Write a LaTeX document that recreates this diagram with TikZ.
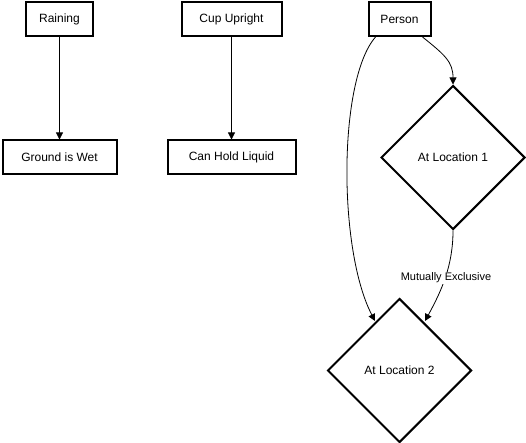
\documentclass[tikz,border=0pt]{standalone}
\usepackage{fontspec}
\setmainfont{Liberation Sans}
\usetikzlibrary{shapes.geometric,arrows.meta}
\begin{document}
\begin{tikzpicture}[x=1pt,y=-1pt,
  box/.style={draw,line width=2pt,rectangle,minimum height=34pt,inner sep=0pt,font=\fontsize{12}{14}\selectfont},
  dia/.style={draw,line width=2pt,diamond,minimum width=144pt,minimum height=144pt,inner sep=0pt,font=\fontsize{12}{14}\selectfont},
  conn/.style={line width=0.8pt,-{Triangle[length=7pt,width=7pt]}},
  lbl/.style={fill=white,inner sep=1pt,font=\fontsize{11}{13}\selectfont}]
\useasboundingbox (0,0) rectangle (526,443);
\node[box,minimum width=67pt] (rain) at (59.5,19) {Raining};
\node[box,minimum width=114pt] (wet) at (59.5,157.5) {Ground is Wet};
\node[box,minimum width=100pt] (cup) at (231.5,19) {Cup Upright};
\node[box,minimum width=128pt] (hold) at (231.5,157.5) {Can Hold Liquid};
\node[box,minimum width=62pt] (person) at (399.5,19) {Person};
\node[dia] (loc1) at (453,157.5) {At Location 1};
\node[dia] (loc2) at (399.5,370.5) {At Location 2};
\draw[conn] (rain.south) -- (wet.north);
\draw[conn] (cup.south) -- (hold.north);
\draw[conn] (person.south east) ++(-9,0) coordinate (p1)
  (p1) .. controls (445,55) and (453,62) .. (loc1.north);
\draw[conn] (person.south west) ++(8,0) coordinate (p2)
  (p2) .. controls (338,80) and (338,250) .. (375,321);
\draw[conn] (loc1.south) .. controls (453,265) and (442,290) .. (425,321);
\node[lbl] (me) at (446,278) {Mutually Exclusive};
\end{tikzpicture}
\end{document}
